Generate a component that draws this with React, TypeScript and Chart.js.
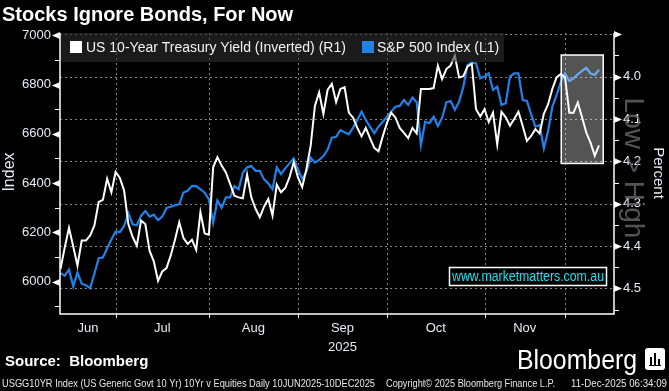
import React, { useEffect, useRef } from 'react';
import { Chart, registerables } from 'chart.js';

Chart.register(...registerables);

const FONT = '"Liberation Sans", Arial, sans-serif';
const LABEL_COLOR = '#e4ecf7';
const BLUE = '#2181e8';
const GRID_COLOR = 'rgba(160,160,160,0.85)';

const TITLE = 'Stocks Ignore Bonds, For Now';
const YIELD_LABEL = 'US 10-Year Treasury Yield (Inverted) (R1)';
const SPX_LABEL = 'S&P 500 Index (L1)';
const LEFT_TITLE = 'Index';
const RIGHT_TITLE = 'Percent';
const WATERMARK = 'www.marketmatters.com.au';
const DIRECTION_NOTE = 'Low > High';
const SOURCE = 'Source:  Bloomberg';
const FOOTER_1 = 'USGG10YR Index (US Generic Govt 10 Yr) 10Yr v Equities Daily 10JUN2025-10DEC2025';
const FOOTER_2 = 'Copyright\u00a9 2025 Bloomberg Finance L.P.';
const FOOTER_3 = '11-Dec-2025 06:34:09';

// x axis: trading-day index (0 = 10 Jun 2025 ... 127 = 10 Dec 2025)
const MONTH_LABELS = ['Jun', 'Jul', 'Aug', 'Sep', 'Oct', 'Nov'];
const YEAR_LABEL = '2025';
const MONTH_LABEL_POS = [6.5, 24, 45.5, 66.5, 88.5, 109.5];
const MONTH_BOUNDARIES = [13, 35, 56, 77, 100, 119];
const X_MIN = -0.12;
const X_MAX = 130.54;

const LEFT_TICKS = [5900, 6000, 6100, 6200, 6300, 6400, 6500, 6600, 6700, 6800, 6900, 7000];
const LEFT_MIN = 5873;
const LEFT_MAX = 7009;
const RIGHT_TICKS = [3.9, 3.95, 4.0, 4.05, 4.1, 4.15, 4.2, 4.25, 4.3, 4.35, 4.4, 4.45, 4.5, 4.55];
const RIGHT_MIN = 3.897;
const RIGHT_MAX = 4.558;

// highlighted window (data coords: x index, yield)
const HIGHLIGHT_X = [118.1, 128.0];
const HIGHLIGHT_Y = [3.949, 4.205];

const yieldValues = [
  4.454, 4.403, 4.357, 4.401, 4.446, 4.387, 4.387, 4.375, 4.351, 4.296,
  4.291, 4.241, 4.273, 4.225, 4.239, 4.269, 4.348, 4.378, 4.399, 4.340,
  4.348, 4.411, 4.436, 4.482, 4.460, 4.452, 4.422, 4.385, 4.344, 4.381,
  4.395, 4.385, 4.409, 4.320, 4.370, 4.373, 4.214, 4.190, 4.210, 4.226,
  4.253, 4.281, 4.285, 4.287, 4.231, 4.285, 4.312, 4.332, 4.307, 4.289,
  4.328, 4.255, 4.273, 4.263, 4.238, 4.202, 4.238, 4.261, 4.218, 4.163,
  4.069, 4.037, 4.088, 4.031, 4.017, 4.060, 4.029, 4.025, 4.085, 4.097,
  4.121, 4.141, 4.121, 4.145, 4.168, 4.176, 4.141, 4.109, 4.085, 4.097,
  4.121, 4.133, 4.145, 4.121, 4.134, 4.029, 4.029, 4.029, 4.027, 3.974,
  4.006, 3.982, 3.974, 3.950, 4.002, 3.999, 3.976, 3.970, 4.077, 4.094,
  4.077, 4.107, 4.085, 4.160, 4.083, 4.096, 4.116, 4.100, 4.083, 4.116,
  4.152, 4.140, 4.124, 4.134, 4.088, 4.065, 4.029, 4.002, 3.994, 4.002,
  4.085, 4.085, 4.061, 4.096, 4.132, 4.156, 4.187, 4.162,
];

const spxValues = [
  6035, 6024, 6049, 5981, 6038, 5992, 5986, 5974, 6033, 6095,
  6098, 6136, 6171, 6204, 6201, 6226, 6278, 6233, 6229, 6267,
  6287, 6264, 6272, 6250, 6264, 6299, 6304, 6310, 6314, 6362,
  6369, 6389, 6388, 6375, 6361, 6334, 6239, 6329, 6300, 6342,
  6342, 6388, 6375, 6442, 6464, 6469, 6450, 6450, 6415, 6399,
  6375, 6464, 6437, 6460, 6480, 6500, 6456, 6417, 6446, 6503,
  6483, 6494, 6510, 6536, 6584, 6588, 6615, 6606, 6598, 6625,
  6656, 6690, 6656, 6629, 6602, 6629, 6649, 6669, 6690, 6710,
  6713, 6737, 6717, 6747, 6728, 6555, 6649, 6643, 6669, 6632,
  6665, 6728, 6733, 6697, 6730, 6791, 6879, 6890, 6886, 6825,
  6832, 6845, 6778, 6791, 6717, 6724, 6832, 6845, 6845, 6737,
  6733, 6679, 6629, 6636, 6541, 6612, 6710, 6757, 6811, 6845,
  6814, 6825, 6841, 6855, 6868, 6845, 6839, 6860,
];

const isMajorLeft = (v: number) => Math.round(v) % 200 === 0;
const isMajorRight = (v: number) => Math.round(v * 100) % 10 === 0;

const decoPlugin = {
  id: 'deco',
  beforeDraw(chart: any) {
    const { ctx, width, height } = chart;
    ctx.save();
    ctx.fillStyle = '#000';
    ctx.fillRect(0, 0, width, height);
    ctx.restore();
  },
  beforeDatasetsDraw(chart: any) {
    const { ctx, chartArea: a, scales } = chart;
    const xs = scales.x;
    const yr = scales.yR;
    ctx.save();
    ctx.lineWidth = 1;
    ctx.strokeStyle = GRID_COLOR;
    ctx.setLineDash([2, 3]);
    RIGHT_TICKS.forEach((t) => {
      if (!isMajorRight(t)) return;
      const py = Math.round(yr.getPixelForValue(t)) + 0.5;
      ctx.beginPath();
      ctx.moveTo(a.left, py);
      ctx.lineTo(a.right, py);
      ctx.stroke();
    });
    MONTH_BOUNDARIES.forEach((b) => {
      const px = Math.round(xs.getPixelForValue(b)) + 0.5;
      ctx.beginPath();
      ctx.moveTo(px, a.top);
      ctx.lineTo(px, a.bottom);
      ctx.stroke();
    });
    ctx.restore();
  },
  afterDatasetsDraw(chart: any) {
    const { ctx, chartArea: a, scales } = chart;
    const xs = scales.x;
    const yl = scales.yL;
    const yr = scales.yR;
    ctx.save();

    // highlight window
    const hx0 = xs.getPixelForValue(HIGHLIGHT_X[0]);
    const hx1 = xs.getPixelForValue(HIGHLIGHT_X[1]);
    const hy0 = yr.getPixelForValue(HIGHLIGHT_Y[0]);
    const hy1 = yr.getPixelForValue(HIGHLIGHT_Y[1]);
    ctx.fillStyle = 'rgba(255,255,255,0.33)';
    ctx.fillRect(hx0, hy0, hx1 - hx0, hy1 - hy0);
    ctx.strokeStyle = '#fff';
    ctx.lineWidth = 1.5;
    ctx.strokeRect(hx0, hy0, hx1 - hx0, hy1 - hy0);

    // axes
    ctx.strokeStyle = '#fff';
    ctx.fillStyle = '#fff';
    ctx.lineWidth = 1.5;
    ctx.beginPath();
    ctx.moveTo(a.left, a.top);
    ctx.lineTo(a.left, a.bottom + 1);
    ctx.lineTo(a.right, a.bottom + 1);
    ctx.lineTo(a.right, a.top);
    ctx.stroke();

    ctx.lineWidth = 1;
    LEFT_TICKS.forEach((t) => {
      const py = Math.round(yl.getPixelForValue(t)) + 0.5;
      if (isMajorLeft(t)) {
        ctx.beginPath();
        ctx.moveTo(a.left - 8, py);
        ctx.lineTo(a.left, py - 3.5);
        ctx.lineTo(a.left, py + 3.5);
        ctx.closePath();
        ctx.fill();
      } else {
        ctx.beginPath();
        ctx.moveTo(a.left - 5, py);
        ctx.lineTo(a.left, py);
        ctx.stroke();
      }
    });
    RIGHT_TICKS.forEach((t) => {
      const py = Math.round(yr.getPixelForValue(t)) + 0.5;
      if (isMajorRight(t)) {
        ctx.beginPath();
        ctx.moveTo(a.right + 8, py);
        ctx.lineTo(a.right, py - 3.5);
        ctx.lineTo(a.right, py + 3.5);
        ctx.closePath();
        ctx.fill();
      } else {
        ctx.beginPath();
        ctx.moveTo(a.right, py);
        ctx.lineTo(a.right + 5, py);
        ctx.stroke();
      }
    });
    MONTH_BOUNDARIES.forEach((b) => {
      const px = Math.round(xs.getPixelForValue(b)) + 0.5;
      ctx.beginPath();
      ctx.moveTo(px, a.bottom);
      ctx.lineTo(px, a.bottom + 5);
      ctx.stroke();
    });

    // legend
    ctx.fillStyle = 'rgba(45,45,45,0.6)';
    ctx.fillRect(a.left + 1, a.top, 443, 29);
    ctx.fillStyle = '#fff';
    ctx.fillRect(a.left + 10, a.top + 8, 12, 12);
    ctx.fillStyle = BLUE;
    ctx.fillRect(a.left + 302, a.top + 8, 12, 12);
    ctx.font = `14px ${FONT}`;
    ctx.fillStyle = '#f2f2f2';
    ctx.textBaseline = 'middle';
    ctx.textAlign = 'left';
    ctx.fillText(YIELD_LABEL, a.left + 26, a.top + 15);
    ctx.fillText(SPX_LABEL, a.left + 317, a.top + 15);

    // watermark box
    ctx.fillStyle = '#000';
    ctx.fillRect(449.5, 267.5, 157, 18);
    ctx.strokeStyle = '#fff';
    ctx.lineWidth = 1.5;
    ctx.strokeRect(449.5, 267.5, 157, 18);
    ctx.fillStyle = '#19e3ee';
    ctx.font = `14px ${FONT}`;
    ctx.textAlign = 'center';
    ctx.fillText(WATERMARK, 528, 277, 152);

    ctx.restore();
  },
  afterDraw(chart: any) {
    const { ctx, chartArea: a } = chart;
    ctx.save();

    // "Low > High" note
    ctx.save();
    ctx.translate(a.right + 19, 168);
    ctx.rotate(Math.PI / 2);
    ctx.font = `28px ${FONT}`;
    ctx.fillStyle = 'rgba(105,105,105,0.8)';
    ctx.textAlign = 'center';
    ctx.textBaseline = 'middle';
    ctx.fillText(DIRECTION_NOTE, 0, 0);
    ctx.restore();

    // axis titles
    ctx.save();
    ctx.translate(10, 172);
    ctx.rotate(-Math.PI / 2);
    ctx.font = `16px ${FONT}`;
    ctx.fillStyle = LABEL_COLOR;
    ctx.textAlign = 'center';
    ctx.textBaseline = 'middle';
    ctx.fillText(LEFT_TITLE, 0, 0);
    ctx.restore();

    ctx.save();
    ctx.translate(658, 173);
    ctx.rotate(Math.PI / 2);
    ctx.font = `15px ${FONT}`;
    ctx.fillStyle = LABEL_COLOR;
    ctx.textAlign = 'center';
    ctx.textBaseline = 'middle';
    ctx.fillText(RIGHT_TITLE, 0, 0);
    ctx.restore();

    // title
    ctx.fillStyle = '#fff';
    ctx.textAlign = 'left';
    ctx.textBaseline = 'alphabetic';
    ctx.font = `bold 20px ${FONT}`;
    ctx.fillText(TITLE, 2, 21);

    // source
    ctx.font = `bold 15px ${FONT}`;
    ctx.fillText(SOURCE, 5, 366);

    // Bloomberg logo
    ctx.font = `27px ${FONT}`;
    ctx.fillText('Bloomberg', 517, 369, 120);
    ctx.beginPath();
    const ix = 645, iy = 348, iw = 20, ih = 22, r = 3;
    ctx.moveTo(ix + r, iy);
    ctx.lineTo(ix + iw - r, iy);
    ctx.quadraticCurveTo(ix + iw, iy, ix + iw, iy + r);
    ctx.lineTo(ix + iw, iy + ih - r);
    ctx.quadraticCurveTo(ix + iw, iy + ih, ix + iw - r, iy + ih);
    ctx.lineTo(ix + r, iy + ih);
    ctx.quadraticCurveTo(ix, iy + ih, ix, iy + ih - r);
    ctx.lineTo(ix, iy + r);
    ctx.quadraticCurveTo(ix, iy, ix + r, iy);
    ctx.fill();
    ctx.fillStyle = '#000';
    ctx.fillRect(ix + 5, iy + 9, 2, 8);
    ctx.fillRect(ix + 9, iy + 5, 2, 12);
    ctx.fillRect(ix + 13, iy + 11, 2, 6);
    ctx.fillRect(ix + 4, iy + 17, 12, 1);

    // footer
    ctx.fillStyle = '#e6e6e6';
    ctx.font = `11px ${FONT}`;
    ctx.fillText(FOOTER_1, 2, 387, 373);
    ctx.fillText(FOOTER_2, 386, 387, 169);
    ctx.textAlign = 'right';
    ctx.fillText(FOOTER_3, 667, 387, 96);

    ctx.restore();
  },
};

export default function App() {
  const ref = useRef<HTMLCanvasElement>(null);

  useEffect(() => {
    document.body.style.margin = '0';
    document.body.style.background = '#000';
    const canvas = ref.current;
    if (!canvas) return;
    const chart = new Chart(canvas, {
      type: 'line',
      data: {
        datasets: [
          {
            label: YIELD_LABEL,
            data: yieldValues.map((v, i) => ({ x: i, y: v })),
            yAxisID: 'yR',
            xAxisID: 'x',
            borderColor: '#ffffff',
            borderWidth: 2,
            pointRadius: 0,
            tension: 0,
          },
          {
            label: SPX_LABEL,
            data: spxValues.map((v, i) => ({ x: i, y: v })),
            yAxisID: 'yL',
            xAxisID: 'x',
            borderColor: BLUE,
            borderWidth: 2.2,
            pointRadius: 0,
            tension: 0,
          },
        ],
      },
      options: {
        animation: false,
        responsive: false,
        devicePixelRatio: 1,
        events: [],
        layout: { padding: { top: 33, left: 0, right: 0, bottom: 0 } },
        plugins: {
          legend: { display: false },
          tooltip: { enabled: false },
          title: { display: false },
        },
        scales: {
          x: {
            type: 'linear',
            position: 'bottom',
            min: X_MIN,
            max: X_MAX,
            grid: { display: false, drawTicks: false },
            border: { display: false },
            afterBuildTicks: (s: any) => {
              s.ticks = MONTH_LABEL_POS.map((v) => ({ value: v }));
            },
            afterFit: (s: any) => {
              s.height = 78;
            },
            ticks: {
              autoSkip: false,
              maxRotation: 0,
              minRotation: 0,
              padding: 6,
              color: LABEL_COLOR,
              font: { family: FONT, size: 13, lineHeight: '19px' },
              callback: (_v: any, i: number) =>
                i === 3 ? [MONTH_LABELS[i], YEAR_LABEL] : MONTH_LABELS[i],
            },
          },
          yL: {
            type: 'linear',
            position: 'left',
            min: LEFT_MIN,
            max: LEFT_MAX,
            grid: { display: false, drawTicks: false },
            border: { display: false },
            afterBuildTicks: (s: any) => {
              s.ticks = LEFT_TICKS.map((v) => ({ value: v }));
            },
            afterFit: (s: any) => {
              s.width = 60;
            },
            ticks: {
              autoSkip: false,
              padding: 9,
              color: LABEL_COLOR,
              font: { family: FONT, size: 13 },
              callback: (v: any) => (isMajorLeft(Number(v)) ? String(v) : ''),
            },
          },
          yR: {
            type: 'linear',
            position: 'right',
            reverse: true,
            min: RIGHT_MIN,
            max: RIGHT_MAX,
            grid: { display: false, drawTicks: false },
            border: { display: false },
            afterBuildTicks: (s: any) => {
              s.ticks = RIGHT_TICKS.map((v) => ({ value: v }));
            },
            afterFit: (s: any) => {
              s.width = 55;
            },
            ticks: {
              autoSkip: false,
              padding: 9,
              color: LABEL_COLOR,
              font: { family: FONT, size: 13 },
              callback: (v: any) => {
                const n = Number(v);
                return isMajorRight(n) && n > 3.95 ? n.toFixed(1) : '';
              },
            },
          },
        },
      },
      plugins: [decoPlugin],
    } as any);
    return () => chart.destroy();
  }, []);

  return (
    <div style={{ position: 'fixed', left: 0, top: 0, width: 669, height: 391, background: '#000' }}>
      <canvas ref={ref} width={669} height={391} style={{ display: 'block', width: 669, height: 391 }} />
    </div>
  );
}
